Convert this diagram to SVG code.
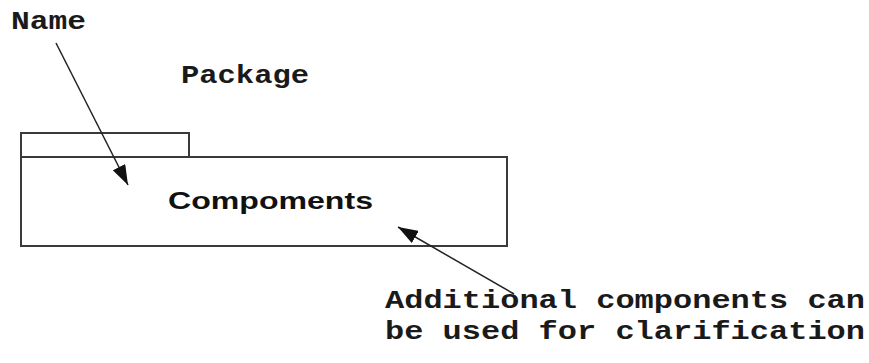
<svg xmlns="http://www.w3.org/2000/svg" width="869" height="363" viewBox="0 0 869 363">
<style>
.mono{font-family:"Liberation Mono","Courier New",monospace;font-weight:bold;fill:#1a1a1a}
.sans{font-family:"Liberation Sans",Arial,sans-serif;font-weight:bold;fill:#111}
.box{fill:#fff;stroke:#3a3a3a;stroke-width:2}
.conn{stroke:#222;stroke-width:1.5;fill:none}
</style>
<defs>
<marker id="ah" viewBox="0 0 20 14" refX="20" refY="7" markerWidth="20" markerHeight="14" markerUnits="userSpaceOnUse" orient="auto">
<path d="M0,0 L20,7 L0,14 Z" fill="#111"/>
</marker>
</defs>
<rect width="869" height="363" fill="#fff"/>
<g id="package">
<rect class="box" x="21" y="133" width="168" height="24"/>
<rect class="box" x="21" y="157" width="486" height="89"/>
<text class="sans" x="168" y="209" font-size="24" textLength="205" lengthAdjust="spacingAndGlyphs">Compoments</text>
</g>
<g id="label-name">
<text class="mono" x="11" y="29" font-size="25" textLength="75" lengthAdjust="spacingAndGlyphs">Name</text>
</g>
<g id="label-package">
<text class="mono" x="181" y="83" font-size="25" textLength="128" lengthAdjust="spacingAndGlyphs">Package</text>
</g>
<g id="label-additional">
<text class="mono" x="385" y="308" font-size="26" textLength="480" lengthAdjust="spacingAndGlyphs">Additional components can</text>
<text class="mono" x="385" y="339" font-size="26" textLength="480" lengthAdjust="spacingAndGlyphs">be used for clarification</text>
</g>
<g id="connectors">
<line class="conn" x1="514" y1="294" x2="398" y2="227" marker-end="url(#ah)"/>
<line class="conn" x1="56" y1="43" x2="128" y2="185" marker-end="url(#ah)"/>
</g>
</svg>
